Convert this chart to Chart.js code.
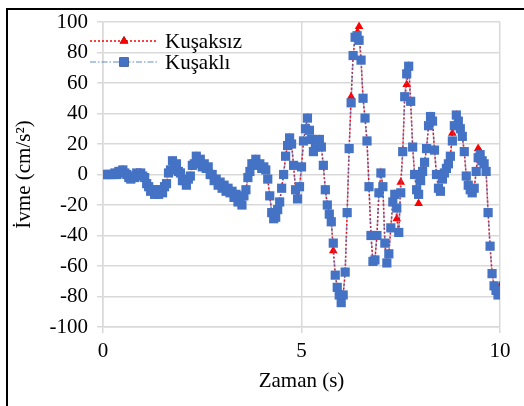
<!DOCTYPE html>
<html>
<head>
<meta charset="utf-8">
<script src="https://cdn.jsdelivr.net/npm/chart.js@4"></script>
<style>
  html, body { margin: 0; padding: 0; background: #fff; overflow: hidden; }
  #wrap { position: relative; width: 524px; height: 406px; }
  #frame { position: absolute; left: 6px; top: 8px; width: 600px; height: 500px; border: 2px solid #000; pointer-events: none; }
</style>
</head>
<body>
<div id="wrap">
  <canvas id="chart" width="524" height="406"></canvas>
  <div id="frame"></div>
</div>
<script>
// time step of the record (s)
const dt = 0.05;

// Kuşaklı (blue squares), one value every 0.05 s from 0 to 10 s
const kusakli = [
  0, 0, 0, 0, 0, 0, 1, 0, 2, 2, 3, 1, 0, -2, -3, -1, -2, 1, 0, 1,
  -1, -2, -6, -8, -11, -10, -13, -10, -13, -10, -12, -8, -6, 1, 3, 9, 5, 7, 2, 1,
  -4, -4, -7, -3, -1, 6, 7, 12, 8, 10, 5, 7, 4, 5, 0, 0, -4, -3, -7, -5,
  -9, -7, -11, -9, -12, -11, -15, -13, -18, -16, -20, -14, -10, -2, 2, 7, 7, 10, 6, 7,
  4, 5, 3, -3, -14, -25, -29, -28, -23, -18, -9, 0, 12, 19, 24, 20, 6, -10, -16, -8,
  5, 22, 30, 37, 29, 23, 15, 18, 20, 23, 18, 6, -10, -20, -26, -31, -45, -66, -74, -79,
  -84, -79, -64, -25, 17, 47, 78, 90, 91, 88, 75, 50, 37, 22, -8, -40, -57, -56, -40, -12,
  1, -8, -45, -58, -52, -35, -18, -13, -22, -38, -12, 15, 51, 66, 71, 48, 18, 0, -10, -13,
  -4, 2, 8, 17, 32, 38, 35, 16, 0, -9, -11, -3, 1, 4, 7, 12, 22, 32, 39, 35,
  30, 25, 15, -1, -7, -10, -12, -9, 2, 11, 13, 9, 7, 2, -25, -47, -65, -73, -76, -79,
  -78
];

// Kuşaksız (red triangles)
const kusaksiz = [
  0, 0, 0, 0, 0, 0, 1, 0, 2, 2, 3, 1, 0, -2, -3, -1, -2, 1, 0, 1,
  -1, -2, -6, -8, -11, -10, -13, -10, -13, -10, -12, -8, -6, 1, 3, 9, 5, 7, 2, 1,
  -4, -4, -7, -3, -1, 6, 7, 12, 8, 10, 5, 7, 4, 5, 0, 0, -4, -3, -7, -5,
  -9, -7, -11, -9, -12, -11, -15, -13, -18, -16, -20, -14, -10, -2, 2, 7, 7, 10, 6, 7,
  4, 5, 3, -3, -14, -25, -29, -28, -23, -18, -9, 0, 12, 19, 24, 20, 6, -10, -16, -8,
  5, 22, 30, 37, 29, 23, 15, 18, 20, 23, 18, 6, -10, -20, -26, -31, -50, -66, -74, -79,
  -84, -79, -64, -25, 17, 51, 78, 90, 93, 97, 75, 50, 37, 22, -8, -40, -57, -56, -40, -12,
  1, -8, -45, -58, -52, -35, -18, -13, -29, -38, -5, 15, 51, 59, 71, 48, 18, 0, -10, -19,
  -4, 2, 8, 17, 32, 38, 35, 16, 0, -9, -11, -3, 1, 4, 7, 12, 27, 32, 39, 35,
  30, 25, 15, -1, -7, -10, -12, -9, 2, 17, 15, 9, 7, 2, -25, -47, -65, -73, -76, -79,
  -73
];

const zaman = kusakli.map((_, i) => +(i * dt).toFixed(2));

const xTicks = [0, 5, 10];
const yRange = [-100, 100];

const serif = 'Liberation Serif';

// legend drawn inside the plot, top left
const innerLegend = {
  id: 'innerLegend',
  afterDraw(chart) {
    const ctx = chart.ctx;
    const rows = [
      { ds: chart.data.datasets[0], y: 41 },
      { ds: chart.data.datasets[1], y: 62 }
    ];
    ctx.save();
    rows.forEach(r => {
      const ds = r.ds;
      ctx.beginPath();
      ctx.setLineDash(ds.legendDash);
      ctx.strokeStyle = ds.legendLine;
      ctx.lineWidth = ds.borderWidth;
      ctx.moveTo(90, r.y);
      ctx.lineTo(157, r.y);
      ctx.stroke();
      ctx.setLineDash([]);
      Chart.helpers.drawPoint(ctx, {
        pointStyle: ds.pointStyle,
        radius: ds.pointRadius,
        borderWidth: 0,
        rotation: 0
      }, 124, r.y);
      ctx.fillStyle = ds.pointBackgroundColor;
      ctx.fill();
      ctx.fillStyle = '#000';
      ctx.font = '21px "' + serif + '"';
      ctx.textBaseline = 'middle';
      ctx.fillText(ds.label, 165, r.y + 1);
    });
    ctx.restore();
  }
};

const ctx = document.getElementById('chart').getContext('2d');
new Chart(ctx, {
  type: 'line',
  data: {
    datasets: [
      {
        label: 'Kuşaksız',
        data: zaman.map((x, i) => ({ x, y: kusaksiz[i] })),
        borderColor: '#ff0000',
        legendLine: '#ff0000',
        borderWidth: 1.5,
        borderDash: [2, 2],
        legendDash: [2, 2],
        pointStyle: 'triangle',
        pointRadius: 5,
        pointBackgroundColor: '#ff0000',
        pointBorderWidth: 0,
        tension: 0,
        order: 2
      },
      {
        label: 'Kuşaklı',
        data: zaman.map((x, i) => ({ x, y: kusakli[i] })),
        borderColor: 'rgba(68,114,196,0.55)',
        legendLine: 'rgba(68,114,196,0.55)',
        borderWidth: 1.5,
        borderDash: [6, 2, 1.5, 2],
        legendDash: [6, 2, 1.5, 2],
        pointStyle: 'rect',
        pointRadius: 6.5,
        pointBackgroundColor: '#4472c4',
        pointBorderWidth: 0,
        tension: 0,
        order: 1
      }
    ]
  },
  options: {
    responsive: false,
    animation: false,
    layout: { padding: { left: 0, right: 24, top: 22, bottom: 0 } },
    plugins: {
      legend: { display: false },
      tooltip: { enabled: false }
    },
    scales: {
      x: {
        type: 'linear',
        min: xTicks[0],
        max: xTicks[xTicks.length - 1],
        afterBuildTicks: s => { s.ticks = xTicks.map(v => ({ value: v })); },
        ticks: { font: { family: serif, size: 21 }, color: '#000', padding: 6, maxRotation: 0 },
        grid: { color: '#d9d9d9', lineWidth: 1.5, tickLength: 6 },
        border: { color: '#d9d9d9', width: 1.5 },
        title: {
          display: true,
          text: 'Zaman (s)',
          font: { family: serif, size: 21 },
          color: '#000',
          padding: { top: 0, bottom: 12 }
        },
        afterFit: s => { s.height = 79; }
      },
      y: {
        min: yRange[0],
        max: yRange[1],
        ticks: { stepSize: 20, font: { family: serif, size: 21 }, color: '#000', padding: 9 },
        grid: { color: '#d9d9d9', lineWidth: 1.5, tickLength: 6 },
        border: { color: '#d9d9d9', width: 1.5 },
        title: {
          display: true,
          text: 'İvme (cm/s²)',
          font: { family: serif, size: 21 },
          color: '#000',
          padding: { top: 12, bottom: 0 }
        },
        afterFit: s => { s.width = 103; }
      }
    }
  },
  plugins: [innerLegend]
});
</script>
</body>
</html>
